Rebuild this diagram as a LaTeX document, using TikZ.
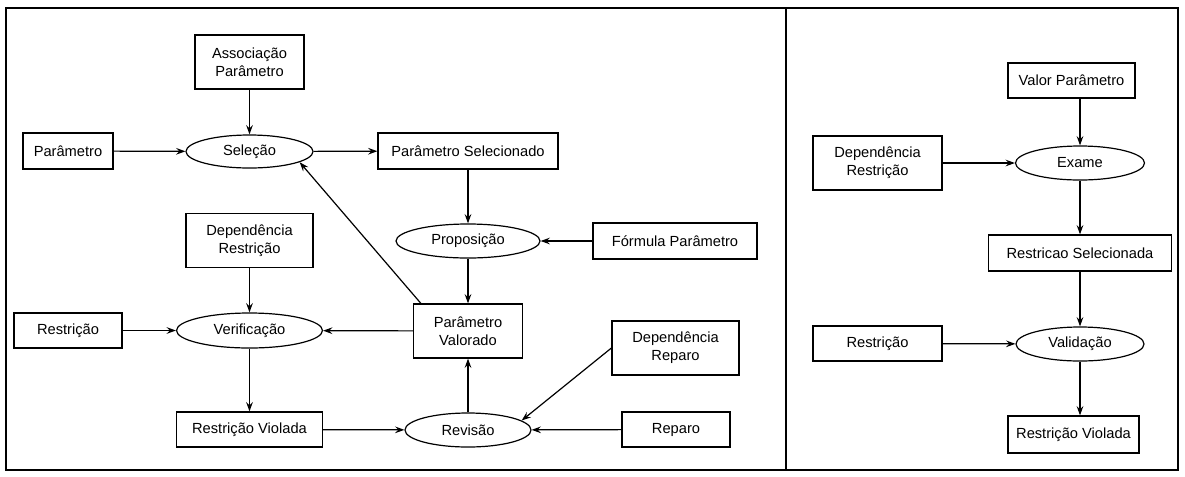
\documentclass[tikz,border=0pt]{standalone}
\usepackage{fontspec}
\setsansfont{Liberation Sans}
\usetikzlibrary{arrows.meta,shapes.geometric}
\tikzset{
  basic/.style = {draw, line width=0.9pt, font=\sffamily\fontsize{11}{13.3}\selectfont,
                  align=center, inner sep=0pt},
  data/.style  = {basic, rectangle},
  task/.style  = {basic, ellipse},
  flow/.style  = {-{Stealth[length=7pt,width=5pt,inset=2.5pt]}, line width=0.9pt},
  frame/.style = {line width=1.6pt}
}

\begin{document}
\begin{tikzpicture}[x=0.75pt, y=-0.75pt]
\useasboundingbox (0,0) rectangle (1185,476);

% outer frame and the panel divider
\draw[frame] (6,8) rectangle (1178,470);
\draw[frame] (786,8) -- (786,470);

% left panel, selection and proposition
\node[data, minimum width=81.75pt, minimum height=40.5pt] (assoc) at (249.5,62) {Associação\\Parâmetro};
\node[data, minimum width=67.5pt, minimum height=27pt] (par) at (68,151) {Parâmetro};
\node[task, minimum width=95.25pt, minimum height=24.75pt] (sel) at (249.5,151.5) {Seleção};
\node[data, minimum width=135pt, minimum height=27pt] (parsel) at (468,151) {Parâmetro Selecionado};
\node[task, minimum width=108pt, minimum height=25.5pt] (prop) at (468,241) {Proposição};
\node[data, minimum width=123pt, minimum height=27pt] (form) at (675,241) {Fórmula Parâmetro};
\node[data, minimum width=81.75pt, minimum height=40.5pt] (parval) at (468,331) {Parâmetro\\Valorado};

% left panel, verification and revision
\node[data, minimum width=95.25pt, minimum height=41pt] (deprest) at (249.5,240.5) {Dependência\\Restrição};
\node[data, minimum width=81pt, minimum height=26.25pt] (rest) at (68,330.5) {Restrição};
\node[task, minimum width=109.5pt, minimum height=26.25pt] (verif) at (249.5,330.5) {Verificação};
\node[data, minimum width=109.5pt, minimum height=26.25pt] (viol) at (249.5,429.5) {Restrição Violada};
\node[task, minimum width=94.5pt, minimum height=25.5pt] (rev) at (468,430) {Revisão};
\node[data, minimum width=81pt, minimum height=26.25pt] (rep) at (676,429.5) {Reparo};
\node[data, minimum width=95.25pt, minimum height=40.5pt] (deprep) at (675.5,348) {Dependência\\Reparo};

% right panel
\node[data, minimum width=95.25pt, minimum height=26.25pt] (valpar) at (1071.5,80.5) {Valor Parâmetro};
\node[data, minimum width=96.75pt, minimum height=40.5pt] (deprest2) at (877.5,163) {Dependência\\Restrição};
\node[task, minimum width=96.75pt, minimum height=25.5pt] (exame) at (1080,163) {Exame};
\node[data, minimum width=137.25pt, minimum height=27pt] (restsel) at (1080,253) {Restricao Selecionada};
\node[data, minimum width=96.75pt, minimum height=26.25pt] (rest2) at (877.5,343.5) {Restrição};
\node[task, minimum width=96pt, minimum height=25.5pt] (valid) at (1080,344) {Validação};
\node[data, minimum width=98.25pt, minimum height=27.75pt] (viol2) at (1073.5,434.5) {Restrição Violada};

% connectors, left panel
\draw[flow] (assoc) -- (sel);
\draw[flow] (par) -- (sel);
\draw[flow] (sel) -- (parsel);
\draw[flow] (parsel) -- (prop);
\draw[flow] (form) -- (prop);
\draw[flow] (prop) -- (parval);
\draw[flow] ([xshift=6pt]parval.north west) -- (sel.-12);
\draw[flow] (parval) -- (verif);
\draw[flow] (deprest) -- (verif);
\draw[flow] (rest) -- (verif);
\draw[flow] (verif) -- (viol);
\draw[flow] (viol) -- (rev);
\draw[flow] (rev) -- (parval);
\draw[flow] (deprep.west) -- (rev.10);
\draw[flow] (rep) -- (rev);

% connectors, right panel
\draw[flow] (valpar.south -| exame) -- (exame);
\draw[flow] (deprest2) -- (exame);
\draw[flow] (exame) -- (restsel);
\draw[flow] (restsel) -- (valid);
\draw[flow] (rest2) -- (valid);
\draw[flow] (valid) -- (valid |- viol2.north);

\end{tikzpicture}
\end{document}
